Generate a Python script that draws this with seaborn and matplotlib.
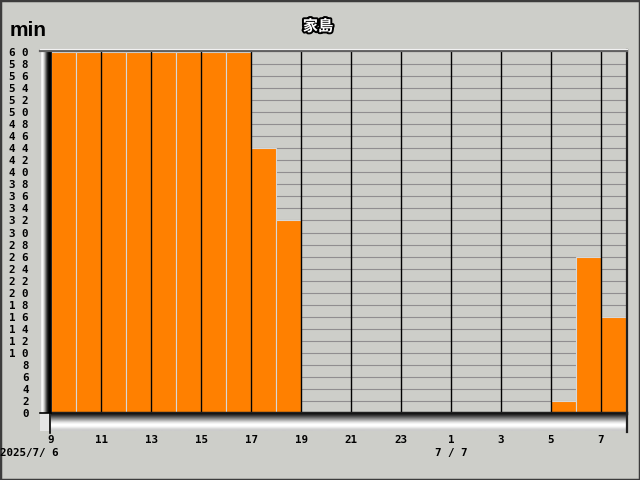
import numpy as np
import pandas as pd
import matplotlib
matplotlib.use("Agg")
import matplotlib.pyplot as plt
import matplotlib.patheffects as pe
from matplotlib.lines import Line2D
from matplotlib.patches import Rectangle
import seaborn as sns

# Minutes per hour, 2025/7/6 09:00 through 2025/7/7 07:00
hours = [9, 10, 11, 12, 13, 14, 15, 16, 17, 18, 19, 20, 21, 22, 23,
         0, 1, 2, 3, 4, 5, 6, 7]
minutes = [60, 60, 60, 60, 60, 60, 60, 60, 44, 32, 0, 0, 0, 0, 0,
           0, 0, 0, 0, 0, 2, 26, 16]
x_tick_labels = ["9", "11", "13", "15", "17", "19", "21", "23", "1", "3", "5", "7"]
y_ticks = list(range(0, 61, 2))
title = "家島"
unit = "min"
date_left = "2025/7/ 6"
date_right = "7 / 7"

BG = "#CDCEC9"
ORANGE = "#FF8000"
W, H = 640, 480

df = pd.DataFrame({"slot": range(len(hours)), "minutes": minutes})

fig = plt.figure(figsize=(6.4, 4.8), dpi=100)
fig.patch.set_facecolor(BG)


def fx(px):
    return px / W


def fy(py):
    return 1 - py / H


L, R, T, B = 51, 626, 52, 413
ax = fig.add_axes([fx(L), fy(B), fx(R - L), fy(T) - fy(B)])
ax.set_facecolor(BG)

sns.barplot(data=df, x="slot", y="minutes", width=1.0, color=ORANGE,
            saturation=1, edgecolor="#D8D8D8", linewidth=0.8, ax=ax,
            zorder=2)

ax.set_xlim(-0.5, len(hours) - 0.5)
ax.set_ylim(0, 60)

# horizontal grid every 2 minutes
for v in y_ticks[1:-1]:
    ax.axhline(v, color="#908E90", lw=0.8, zorder=1)
# vertical lines at every other hour, on top of bars
tick_pos = [i - 0.5 for i in range(0, len(hours), 2)]
for p in tick_pos[1:]:
    ax.axvline(p, color="black", lw=1.0, zorder=3)

ax.set_xticks(tick_pos)
ax.set_xticklabels(x_tick_labels)
ax.set_yticks(y_ticks)
ax.set_yticklabels([" ".join(str(v)) for v in y_ticks])
ax.tick_params(axis="both", length=0)
ax.tick_params(axis="y", pad=16)
ax.tick_params(axis="x", pad=15.5)
for lab in ax.get_xticklabels() + ax.get_yticklabels():
    lab.set_fontfamily("DejaVu Sans Mono")
    lab.set_fontweight("bold")
    lab.set_fontsize(7.8)
ax.set_xlabel("")
ax.set_ylabel("")
for s in ["top", "right"]:
    ax.spines[s].set_visible(False)
ax.spines["left"].set_color("black")
ax.spines["left"].set_linewidth(1.2)
ax.spines["bottom"].set_color("#202020")
ax.spines["bottom"].set_linewidth(2.5)
ax.spines["bottom"].set_zorder(4)

# bevel strips around the plot area
left_strip = fig.add_axes([fx(40), fy(B), fx(L - 40), fy(T) - fy(B)])
lvals = np.array([0.80, 0.93, 0.97, 0.88, 0.72, 0.52, 0.32, 0.15, 0.05, 0.0, 0.0])
left_strip.imshow(lvals[None, :], cmap="gray", vmin=0, vmax=1, aspect="auto",
                  interpolation="bilinear")
left_strip.axis("off")

bot_strip = fig.add_axes([fx(L), fy(431), fx(R - L), fy(B) - fy(431)])
bvals = np.array([0.08, 0.14, 0.22, 0.32, 0.42, 0.52, 0.62, 0.72, 0.82,
                  0.90, 0.96, 1.0, 1.0, 0.97, 0.92, 0.86, 0.82, 0.80])
bot_strip.imshow(bvals[:, None], cmap="gray", vmin=0, vmax=1, aspect="auto",
                 interpolation="bilinear")
bot_strip.axis("off")

corner = fig.add_axes([fx(40), fy(431), fx(L - 40), fy(B) - fy(431)])
corner.imshow(np.full((2, 2), 0.9), cmap="gray", vmin=0, vmax=1, aspect="auto")
corner.axis("off")

# frame lines of the box
fig.add_artist(Line2D([fx(50), fx(50)], [fy(B), fy(433)], color="black", lw=1.2))
fig.add_artist(Line2D([fx(40), fx(L)], [fy(B), fy(B)], color="black", lw=1.2))
fig.add_artist(Line2D([fx(626.5), fx(626.5)], [fy(50), fy(432)], color="#202020", lw=1.6))
fig.add_artist(Line2D([fx(40), fx(627)], [fy(50.5), fy(50.5)], color="#606060", lw=1.6))
fig.add_artist(Line2D([fx(40), fx(627)], [fy(48.8), fy(48.8)], color="#F2F2F2", lw=0.8))

# outer border
fig.add_artist(Rectangle((0, 0), 1, 1, transform=fig.transFigure, fill=False,
                         edgecolor="#3C3C3C", lw=2.5))

fig.text(fx(10), fy(30), unit, fontsize=15, fontweight="bold",
         fontfamily="Liberation Sans", va="center", ha="left")
fig.text(fx(318), fy(26), title, fontsize=11, fontweight="bold",
         fontfamily=["Noto Sans CJK JP", "DejaVu Sans"], color="white",
         ha="center", va="center",
         path_effects=[pe.withStroke(linewidth=2.8, foreground="black")])
fig.text(fx(0), fy(453), date_left, fontsize=7.8, fontweight="bold",
         fontfamily="DejaVu Sans Mono", ha="left", va="center")
fig.text(fx(451), fy(453), date_right, fontsize=7.8, fontweight="bold",
         fontfamily="DejaVu Sans Mono", ha="center", va="center")

fig.savefig("out.png", dpi=100, facecolor=BG)
